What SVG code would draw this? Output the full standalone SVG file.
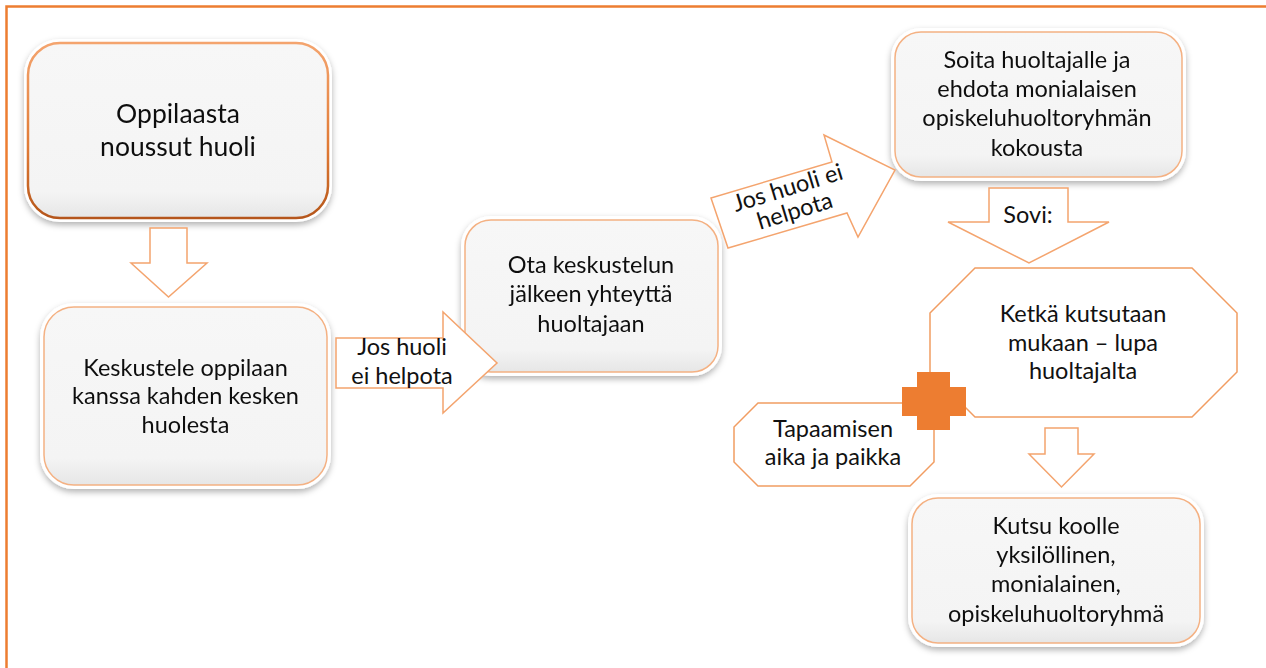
<svg xmlns="http://www.w3.org/2000/svg" width="1266" height="668" viewBox="0 0 1266 668">
<defs>
<style>
.t{font-family:Lato,"Liberation Sans",sans-serif;font-size:23.5px;fill:#111;text-anchor:middle}
.big{font-size:26.5px}
.box{fill:url(#bf);stroke:#F4B183;stroke-width:1.5}
.halo{fill:#fff}
.arr{fill:#fff;stroke:#F4A46E;stroke-width:1.5;stroke-linejoin:miter}
.oct{fill:#fff;stroke:#F19D62;stroke-width:1.5}
</style>
<linearGradient id="bf" x1="0" y1="0" x2="0" y2="1">
<stop offset="0" stop-color="#f7f7f7"/><stop offset="0.85" stop-color="#f4f4f4"/><stop offset="1" stop-color="#e6e6e6"/>
</linearGradient>
<linearGradient id="bs" x1="0" y1="0" x2="0" y2="1">
<stop offset="0" stop-color="#F4A46E"/><stop offset="0.6" stop-color="#E07A35"/><stop offset="1" stop-color="#B5561A"/>
</linearGradient>
<filter id="sh" x="-10%" y="-10%" width="120%" height="130%">
<feDropShadow dx="0" dy="3" stdDeviation="3" flood-color="#000" flood-opacity="0.3"/>
</filter>
</defs>
<rect width="1266" height="668" fill="#fff"/>
<path d="M6.5,668 V6.5 H1266" fill="none" stroke="#ED7D31" stroke-width="2.5"/>

<g id="n1" filter="url(#sh)">
<rect class="halo" x="24" y="39" width="308" height="183" rx="36"/>
<rect x="28" y="43" width="300" height="175" rx="32" fill="url(#bf)" stroke="url(#bs)" stroke-width="2.5"/>
<text class="t big"><tspan x="178" y="123">Oppilaasta</tspan><tspan x="178" y="156">noussut huoli</tspan></text>
</g>

<g id="n2" filter="url(#sh)">
<rect class="halo" x="40" y="303" width="291" height="186" rx="34"/>
<rect class="box" x="44" y="307" width="283" height="178" rx="30"/>
<text class="t"><tspan x="185.5" y="376">Keskustele oppilaan</tspan><tspan x="185.5" y="404">kanssa kahden kesken</tspan><tspan x="185.5" y="433">huolesta</tspan></text>
</g>

<g id="n3" filter="url(#sh)">
<rect class="halo" x="461" y="216" width="261" height="160" rx="30"/>
<rect class="box" x="465" y="220" width="253" height="152" rx="26"/>
<text class="t"><tspan x="591" y="273">Ota keskustelun</tspan><tspan x="591" y="302">jälkeen yhteyttä</tspan><tspan x="591" y="332">huoltajaan</tspan></text>
</g>

<g id="n4" filter="url(#sh)">
<rect class="halo" x="891" y="28" width="295" height="153" rx="30"/>
<rect class="box" x="895" y="32" width="287" height="145" rx="26"/>
<text class="t"><tspan x="1037" y="68">Soita huoltajalle ja</tspan><tspan x="1037" y="97">ehdota monialaisen</tspan><tspan x="1037" y="126">opiskeluhuoltoryhmän</tspan><tspan x="1037" y="156">kokousta</tspan></text>
</g>

<g id="n7" filter="url(#sh)">
<rect class="halo" x="908" y="494" width="296" height="153" rx="30"/>
<rect class="box" x="912" y="498" width="288" height="145" rx="26"/>
<text class="t"><tspan x="1056" y="534">Kutsu koolle</tspan><tspan x="1056" y="563">yksilöllinen,</tspan><tspan x="1056" y="592">monialainen,</tspan><tspan x="1056" y="622">opiskeluhuoltoryhmä</tspan></text>
</g>

<g id="connectors">
<polygon class="arr" points="150,228 187,228 187,263 207,263 168.5,297 131,263 150,263"/>
<g id="arrow-right">
<polygon class="arr" points="336,338 443,338 443,312 497,363 443,413 443,388 336,388"/>
<text class="t"><tspan x="402" y="355">Jos huoli</tspan><tspan x="402" y="384">ei helpota</tspan></text>
</g>
<g id="arrow-diag">
<polygon class="arr" points="711,198 728,248 847,213 858,237 895,170 824,135 832,162"/>
<text class="t" transform="translate(793,205) rotate(-17)"><tspan x="0" y="-10">Jos huoli ei</tspan><tspan x="0" y="14">helpota</tspan></text>
</g>
<g id="arrow-sovi">
<polygon class="arr" points="989,188 1068,188 1068,222 1109,222 1029,263 948,222 989,222"/>
<text class="t" x="1028" y="223">Sovi:</text>
</g>
<polygon class="arr" points="1045,428 1078,428 1078,454 1094,454 1061.5,487 1029,454 1045,454"/>
</g>

<g id="n5">
<polygon class="oct" points="930,313 975,268 1192,268 1237,313 1237,372 1192,417 975,417 930,372"/>
<text class="t"><tspan x="1083" y="322">Ketkä kutsutaan</tspan><tspan x="1083" y="351">mukaan – lupa</tspan><tspan x="1083" y="379">huoltajalta</tspan></text>
</g>

<g id="n6">
<polygon class="oct" points="758,403 910,403 934,427 934,462 910,486 758,486 734,462 734,427"/>
<text class="t"><tspan x="833" y="437">Tapaamisen</tspan><tspan x="833" y="465">aika ja paikka</tspan></text>
</g>

<g id="plus">
<polygon fill="#ED7D31" points="917,372 950,372 950,387 966,387 966,416 950,416 950,430 917,430 917,416 902,416 902,387 917,387"/>
</g>
</svg>
